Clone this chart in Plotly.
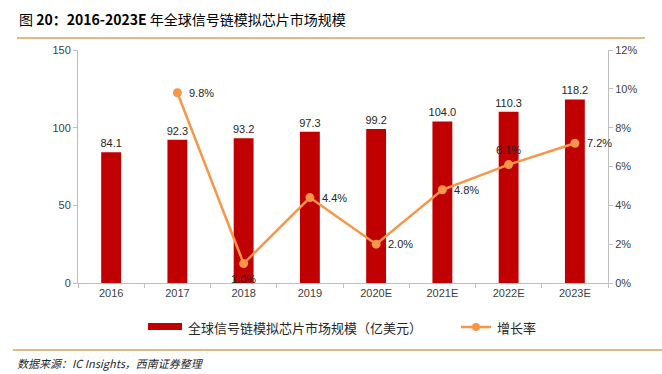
import plotly.graph_objects as go

categories = ["2016", "2017", "2018", "2019", "2020E", "2021E", "2022E", "2023E"]
market_size = [84.1, 92.3, 93.2, 97.3, 99.2, 104.0, 110.3, 118.2]
growth = [None, 0.098, 0.010, 0.044, 0.020, 0.048, 0.061, 0.072]
bar_name = "全球信号链模拟芯片市场规模（亿美元）"
line_name = "增长率"

W, H = 662, 374
L, R, T, B = 78, 54, 50, 91
PW, PH = W - L - R, H - T - B


def px_x(x):
    return (x - L) / PW


def px_y(y):
    return ((H - B) - y) / PH


fig = go.Figure()
fig.add_trace(go.Bar(
    x=categories, y=market_size, name=bar_name,
    marker=dict(color="#C00000", line=dict(width=0)), width=0.3,
    text=[f"{v:.1f}" for v in market_size], textposition="outside",
    constraintext="none",
    textfont=dict(size=11, color="#262626", family="Liberation Sans"),
    cliponaxis=False, yaxis="y",
))
fig.add_trace(go.Scatter(
    x=categories, y=growth, name=line_name, mode="lines+markers",
    line=dict(color="#F79646", width=2.5), marker=dict(size=9, color="#F79646"),
    cliponaxis=False, yaxis="y2",
))

# growth labels (positioned by category index on the category axis)
label_offsets = {"2018": (0, -15), "2022E": (0, 15)}
for i, (c, g) in enumerate(zip(categories, growth)):
    if g is None:
        continue
    dx, dy = label_offsets.get(c, (10, 0))
    fig.add_annotation(
        x=i, y=g, xref="x", yref="y2", text=f"{g*100:.1f}%", showarrow=False,
        xanchor="left" if dx else "center", yanchor="middle",
        xshift=dx, yshift=dy,
        font=dict(size=11, color="#262626", family="Liberation Sans"),
    )

axis_font = dict(size=11, color="#404040", family="Liberation Sans")
fig.update_layout(
    width=W, height=H, margin=dict(l=L, r=R, t=T, b=B),
    paper_bgcolor="white", plot_bgcolor="white",
    bargap=0.7, showlegend=False,
    font=dict(family="Noto Sans CJK SC", size=11),
    xaxis=dict(type="category", categoryorder="array", categoryarray=categories,
               range=[-0.5, len(categories) - 0.5],
               showline=True, linecolor="#BFBFBF", linewidth=1,
               ticks="outside", tickson="boundaries", ticklen=4, tickcolor="#BFBFBF",
               tickfont=axis_font, showgrid=False, tickangle=0),
    yaxis=dict(range=[0, 150], dtick=50, showline=True, linecolor="#BFBFBF",
               ticks="outside", ticklen=4, tickcolor="#BFBFBF", tickfont=axis_font,
               showgrid=False, zeroline=False),
    yaxis2=dict(range=[0, 0.12], dtick=0.02, tickformat=".0%", overlaying="y", side="right",
                showline=True, linecolor="#BFBFBF", ticks="outside", ticklen=4,
                tickcolor="#BFBFBF", tickfont=axis_font, showgrid=False, zeroline=False),
)

# custom legend
fig.add_shape(type="rect", xref="paper", yref="paper",
              x0=px_x(148), x1=px_x(182), y0=px_y(330), y1=px_y(323),
              fillcolor="#C00000", line=dict(width=0))
fig.add_annotation(text=bar_name, xref="paper", yref="paper", x=px_x(186), y=px_y(327),
                   xanchor="left", yanchor="middle", showarrow=False,
                   font=dict(size=13, color="#262626", family="Noto Sans CJK SC"))
fig.add_shape(type="line", xref="paper", yref="paper",
              x0=px_x(461), x1=px_x(491), y0=px_y(327), y1=px_y(327),
              line=dict(color="#F79646", width=2.5))
fig.add_shape(type="circle", xref="paper", yref="paper",
              x0=px_x(472), x1=px_x(480), y0=px_y(331), y1=px_y(323),
              fillcolor="#F79646", line=dict(width=0))
fig.add_annotation(text=line_name, xref="paper", yref="paper", x=px_x(495), y=px_y(327),
                   xanchor="left", yanchor="middle", showarrow=False,
                   font=dict(size=13, color="#262626", family="Noto Sans CJK SC"))

fig.add_annotation(
    text="图 <b>20：2016-2023E</b> 年全球信号链模拟芯片市场规模",
    xref="paper", yref="paper", x=px_x(17), y=px_y(19),
    xanchor="left", yanchor="middle", showarrow=False,
    font=dict(size=14, color="#000000", family="Noto Sans CJK SC"),
)
fig.add_annotation(
    text="<i>数据来源：IC Insights，西南证券整理</i>",
    xref="paper", yref="paper", x=px_x(15), y=px_y(363),
    xanchor="left", yanchor="middle", showarrow=False,
    font=dict(size=11, color="#262626", family="Noto Sans CJK SC"),
)
for ypx, x0, x1 in [(38, 17, 645), (350, 13, 662)]:
    fig.add_shape(type="line", xref="paper", yref="paper",
                  x0=px_x(x0), x1=px_x(x1), y0=px_y(ypx), y1=px_y(ypx),
                  line=dict(color="#D6A45A", width=1.5))

fig.write_html("out.html", config={"displayModeBar": False},
               post_script="document.body.style.margin='0';")
